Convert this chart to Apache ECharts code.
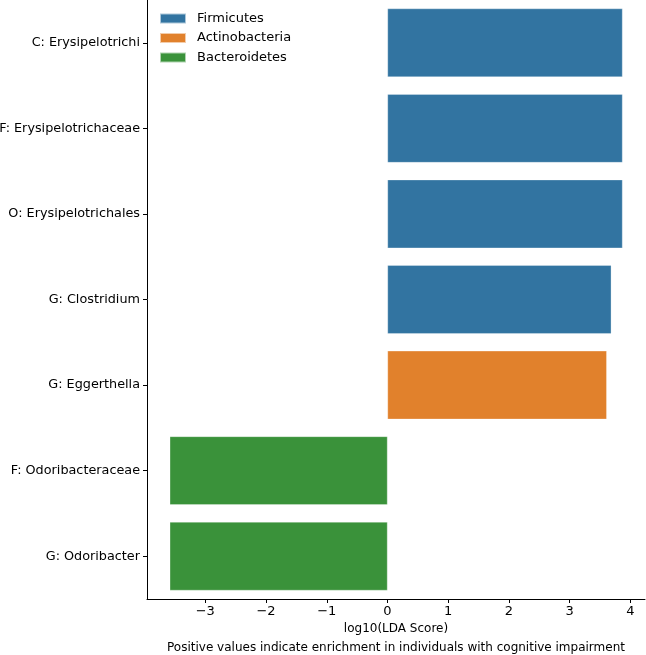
<!DOCTYPE html>
<html><head><meta charset="utf-8">
<script src="https://cdn.jsdelivr.net/npm/echarts@6/dist/echarts.min.js"></script>
<style>html,body{margin:0;padding:0;background:#fff}#c{width:646px;height:655px}</style>
</head><body><div id="c"></div>
<script>
const categories = ["C: Erysipelotrichi","F: Erysipelotrichaceae","O: Erysipelotrichales","G: Clostridium","G: Eggerthella","F: Odoribacteraceae","G: Odoribacter"];
const values = [3.87, 3.87, 3.87, 3.685, 3.61, -3.585, -3.585];
const phylum = ["Firmicutes","Firmicutes","Firmicutes","Firmicutes","Actinobacteria","Bacteroidetes","Bacteroidetes"];
const phylumOrder = ["Firmicutes","Actinobacteria","Bacteroidetes"];
const colors = {"Firmicutes":"#3274a1","Actinobacteria":"#e1812c","Bacteroidetes":"#3a923a"};
const xTicks = [-3,-2,-1,0,1,2,3,4];
const font = "DejaVu Sans";

const chart = echarts.init(document.getElementById('c'));
const series = phylumOrder.map(p => ({
  name: p, type: 'bar', stack: 'all',
  barWidth: '80%',
  itemStyle: {color: colors[p], borderColor: 'rgba(255,255,255,0.6)', borderWidth: 0.5},
  data: values.map((v,i) => phylum[i] === p ? v : '-')
}));
chart.setOption({
  animation: false,
  textStyle: {fontFamily: font},
  grid: {left: 147, right: 1, top: 0, bottom: 56, containLabel: false, outerBoundsMode: 'none'},
  legend: {
    left: 154, top: 7, orient: 'vertical', itemWidth: 26, itemHeight: 10, itemGap: 6.5,
    textStyle: {fontFamily: font, fontSize: 13, color: '#000', padding: [0, 0, 0, 6]},
    icon: 'rect', data: phylumOrder
  },
  xAxis: {
    type: 'value', min: -3.96, max: 4.24,
    splitLine: {show: false},
    axisLine: {show: true, onZero: false, lineStyle: {color: '#000', width: 1}},
    axisTick: {show: true, length: 4, lineStyle: {color: '#000'}, customValues: xTicks},
    axisLabel: {color: '#000', fontSize: 13, fontFamily: font, margin: 6, customValues: xTicks,
      formatter: v => String(v).replace('-', '\u2212')},
    name: 'log10(LDA Score)\nPositive values indicate enrichment in individuals with cognitive impairment',
    nameLocation: 'middle', nameGap: 20, nameMoveOverlap: false,
    nameTextStyle: {color: '#000', fontSize: 12, fontFamily: font, lineHeight: 19, verticalAlign: 'top'}
  },
  yAxis: {
    type: 'category', data: categories, inverse: true,
    axisLine: {show: true, onZero: false, lineStyle: {color: '#000', width: 1}},
    axisTick: {show: true, alignWithLabel: true, length: 4, lineStyle: {color: '#000'}},
    axisLabel: {color: '#000', fontSize: 12.8, fontFamily: font, margin: 7}
  },
  series: series
});
</script></body></html>
